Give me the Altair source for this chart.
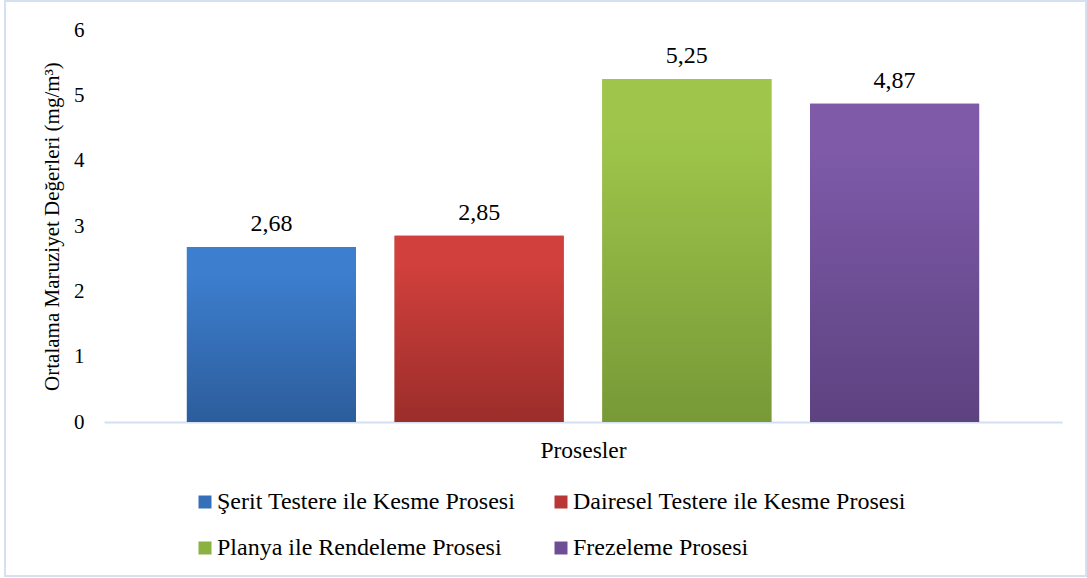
import altair as alt
import pandas as pd

# Process names, mean exposure values (mg/m3) and bar colours
processes = [
    "Şerit Testere ile Kesme Prosesi",
    "Dairesel Testere ile Kesme Prosesi",
    "Planya ile Rendeleme Prosesi",
    "Frezeleme Prosesi",
]
values = [2.68, 2.85, 5.25, 4.87]
top_colors = ["#3d7ecf", "#d1403c", "#9fc64b", "#7e5aa9"]
bottom_colors = ["#2c5d9b", "#9b2d2a", "#779937", "#5d4280"]
legend_colors = ["#356fb8", "#b93734", "#8cb143", "#6e4f96"]
y_ticks = [0, 1, 2, 3, 4, 5, 6]

FONT = "'Liberation Serif', 'Times New Roman', serif"

df = pd.DataFrame({"proses": processes, "deger": values})
df["etiket"] = df["deger"].map(lambda v: f"{v:.2f}".replace(".", ","))


def vertical_gradient(top, bottom):
    return {
        "gradient": "linear",
        "x1": 0, "y1": 0, "x2": 0, "y2": 1,
        "stops": [
            {"offset": 0, "color": top},
            {"offset": 0.15, "color": top},
            {"offset": 1, "color": bottom},
        ],
    }


x_enc = alt.X(
    "proses:N",
    sort=processes,
    scale=alt.Scale(paddingInner=0.186, paddingOuter=0.399),
    axis=alt.Axis(
        labels=False,
        ticks=False,
        domainColor="#d4e0f1",
        domainWidth=2,
        title="Prosesler",
        titleFont=FONT,
        titleFontSize=23.5,
        titleFontWeight="normal",
        titleColor="#000000",
        titleBaseline="alphabetic",
        titleY=35,
    ),
)
y_enc = alt.Y(
    "deger:Q",
    scale=alt.Scale(domain=[0, 6], nice=False),
    axis=alt.Axis(
        values=y_ticks,
        format="d",
        grid=False,
        domain=False,
        ticks=False,
        labelFont=FONT,
        labelFontSize=21,
        labelColor="#000000",
        labelPadding=20,
        title="Ortalama Maruziyet Değerleri (mg/m³)",
        titleFont=FONT,
        titleFontSize=21,
        titleFontWeight="normal",
        titleColor="#000000",
        titleX=-52,
        titleBaseline="middle",
    ),
)

base = alt.Chart(df)

# flat-coloured bars carry the legend
legend_bars = base.mark_bar().encode(
    x=x_enc,
    y=y_enc,
    color=alt.Color(
        "proses:N",
        sort=processes,
        scale=alt.Scale(domain=processes, range=legend_colors),
        legend=alt.Legend(
            title=None,
            orient="none",
            direction="horizontal",
            legendX=89,
            legendY=460,
            columns=2,
            symbolType="square",
            symbolSize=169,
            symbolStrokeWidth=0,
            labelFont=FONT,
            labelFontSize=24,
            labelColor="#000000",
            labelOffset=0,
            labelLimit=400,
            columnPadding=33,
            rowPadding=22,
            padding=0,
        ),
    ),
)

# gradient fills drawn on top of each bar
conditions = [
    {"test": f"datum.proses === '{p}'", "value": vertical_gradient(t, b)}
    for p, t, b in zip(processes[:-1], top_colors[:-1], bottom_colors[:-1])
]
gradient_bars = base.mark_bar().encode(
    x=alt.X("proses:N", sort=processes),
    y=alt.Y("deger:Q"),
    fill=alt.FillValue(
        value=vertical_gradient(top_colors[-1], bottom_colors[-1]),
        condition=conditions,
    ),
)

labels = base.mark_text(
    font=FONT, fontSize=24, baseline="alphabetic", dy=-16, color="#000000"
).encode(
    x=alt.X("proses:N", sort=processes),
    y=alt.Y("deger:Q"),
    text="etiket:N",
)

# light outer frame around the whole figure
frame = alt.Chart(alt.Data(values=[{}])).mark_rect(
    fill="transparent", stroke="#d5e0f0", strokeWidth=2
).encode(
    x=alt.value(-99), x2=alt.value(982), y=alt.value(-29), y2=alt.value(546)
)

chart = (
    alt.layer(legend_bars, gradient_bars, labels, frame)
    .properties(
        width=958,
        height=392,
        autosize=alt.AutoSizeParams(type="none"),
        padding={"left": 104, "top": 30, "right": 25, "bottom": 156},
        background="#ffffff",
    )
    .configure_view(stroke=None)
)

chart.save("out.html", embed_options={"renderer": "svg", "actions": False})
